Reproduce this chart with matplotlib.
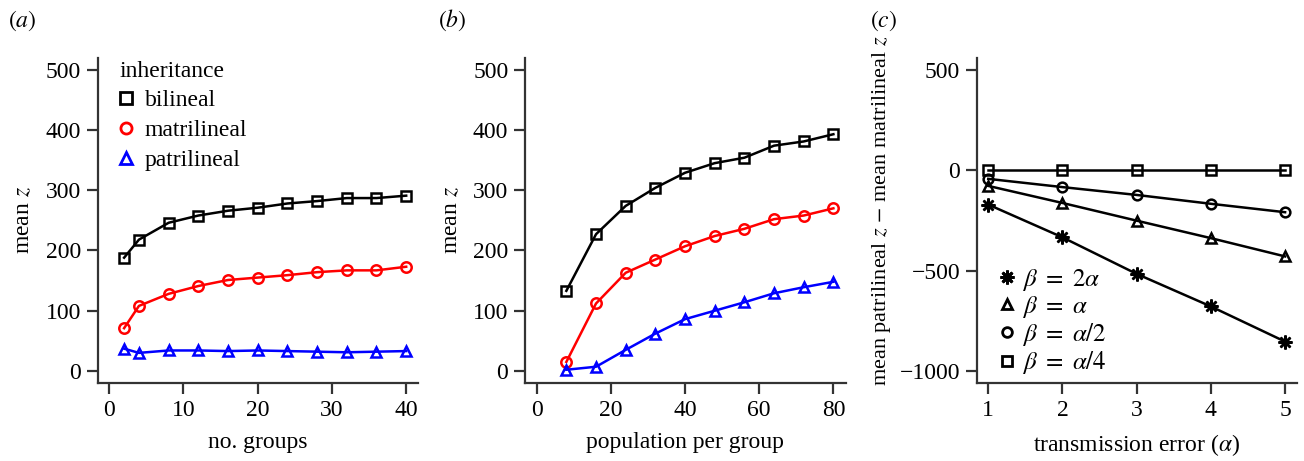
import matplotlib
matplotlib.use('Agg')
import matplotlib.pyplot as plt
from matplotlib.lines import Line2D

plt.rcParams['font.family'] = ['Liberation Serif', 'DejaVu Serif']
plt.rcParams['mathtext.fontset'] = 'stix'
plt.rcParams['font.size'] = 17

# (a) число групп
groups = [2, 4, 8, 12, 16, 20, 24, 28, 32, 36, 40]
a_bilineal = [188, 218, 246, 258, 266, 271, 278, 282, 287, 287, 291]
a_matrilineal = [71, 108, 128, 141, 151, 155, 159, 164, 167, 167, 173]
a_patrilineal = [37, 30, 34, 34, 33, 34, 33, 32, 31, 32, 33]

# (b) размер популяции
pop = [8, 16, 24, 32, 40, 48, 56, 64, 72, 80]
b_bilineal = [133, 227, 274, 304, 329, 345, 354, 374, 381, 393]
b_matrilineal = [15, 112, 163, 185, 207, 224, 236, 252, 258, 270]
b_patrilineal = [2, 7, 35, 62, 86, 100, 114, 129, 139, 148]

# (c) ошибка передачи
alpha = [1, 2, 3, 4, 5]
c_2a = [-170, -333, -515, -677, -852]
c_a = [-77, -162, -250, -337, -428]
c_a2 = [-42, -83, -122, -166, -208]
c_a4 = [0, 0, 0, 0, 0]

inh_labels = ['bilineal', 'matrilineal', 'patrilineal']
inh_colors = ['black', 'red', 'blue']
inh_markers = ['s', 'o', '^']

axcol = '#333333'

fig = plt.figure(figsize=(13.04, 4.61), dpi=100)
ax1 = fig.add_axes([0.0749, 0.1692, 0.2457, 0.7056])
ax2 = fig.add_axes([0.4026, 0.1692, 0.2459, 0.7056])
ax3 = fig.add_axes([0.7490, 0.1692, 0.2456, 0.7056])


def style(ax):
    for s in ['top', 'right']:
        ax.spines[s].set_visible(False)
    for s in ['left', 'bottom']:
        ax.spines[s].set_linewidth(1.6)
        ax.spines[s].set_color(axcol)
    ax.tick_params(direction='out', length=8, width=1.6, color=axcol, pad=4, labelsize=17)


def mk(ax, x, y, color, marker, ms=7.5):
    ax.plot(x, y, color=color, lw=1.8, marker=marker, ms=ms, mfc='none', mec=color, mew=1.8)


for ys, c, m in zip([a_bilineal, a_matrilineal, a_patrilineal], inh_colors, inh_markers):
    mk(ax1, groups, ys, c, m)
for ys, c, m in zip([b_bilineal, b_matrilineal, b_patrilineal], inh_colors, inh_markers):
    mk(ax2, pop, ys, c, m)

ax1.set_xlim(-1.56, 41.6)
ax1.set_ylim(-20, 520)
ax1.set_xticks([0, 10, 20, 30, 40])
ax1.set_yticks([0, 100, 200, 300, 400, 500])
ax1.set_xlabel('no. groups', labelpad=8)
ax1.set_ylabel(r'mean $z$', labelpad=8)

ax2.set_xlim(-3.15, 83.3)
ax2.set_ylim(-20, 520)
ax2.set_xticks([0, 20, 40, 60, 80])
ax2.set_yticks([0, 100, 200, 300, 400, 500])
ax2.set_xlabel('population per group', labelpad=8)
ax2.set_ylabel(r'mean $z$', labelpad=8)

handles = [Line2D([], [], ls='none', marker=m, ms=8, mfc='none', mec=c, mew=2)
           for c, m in zip(inh_colors, inh_markers)]
leg = ax1.legend(handles, inh_labels, title='inheritance', loc='upper left',
                 bbox_to_anchor=(0.04, 1.02), frameon=False, alignment='left',
                 handlelength=0.55, handletextpad=0.5, labelspacing=0.35,
                 borderaxespad=0, fontsize=17, title_fontsize=17)

c_series = [c_2a, c_a, c_a2, c_a4]
c_markers = [(8, 2, 0), '^', 'o', 's']
c_sizes = [10, 7, 7, 7]
c_labels = [r'$\beta\ =\ 2\alpha$', r'$\beta\ =\ \alpha$', r'$\beta\ =\ \alpha/2$', r'$\beta\ =\ \alpha/4$']
for ys, m, s in zip(c_series, c_markers, c_sizes):
    mk(ax3, alpha, ys, 'black', m, ms=s)

ax3.set_xlim(0.844, 5.16)
ax3.set_ylim(-1058, 561)
ax3.set_xticks([1, 2, 3, 4, 5])
ax3.set_yticks([-1000, -500, 0, 500])
ax3.set_yticklabels(['\u22121000', '\u2212500', '0', '500'])
ax3.set_xlabel(r'transmission error ($\alpha$)', labelpad=8)
ax3.set_ylabel(r'mean patrilineal $z$ $-$ mean matrilineal $z$', fontsize=16)
ax3.yaxis.set_label_coords(-0.262, 0.53)

handles_c = [Line2D([], [], ls='none', marker=m, ms=s, mfc='none', mec='black', mew=2)
             for m, s in zip(c_markers, c_sizes)]
ax3.legend(handles_c, c_labels, loc='lower left', bbox_to_anchor=(0.04, -0.01),
           frameon=False, handlelength=0.6, handletextpad=0.3, labelspacing=0.05,
           borderaxespad=0, fontsize=18)

for ax in [ax1, ax2, ax3]:
    style(ax)

fig.text(0.006, 0.955, r'$(a)$', fontsize=17, va='center')
fig.text(0.336, 0.955, r'$(b)$', fontsize=17, va='center')
fig.text(0.667, 0.955, r'$(c)$', fontsize=17, va='center')

fig.savefig('out.png', dpi=100)
